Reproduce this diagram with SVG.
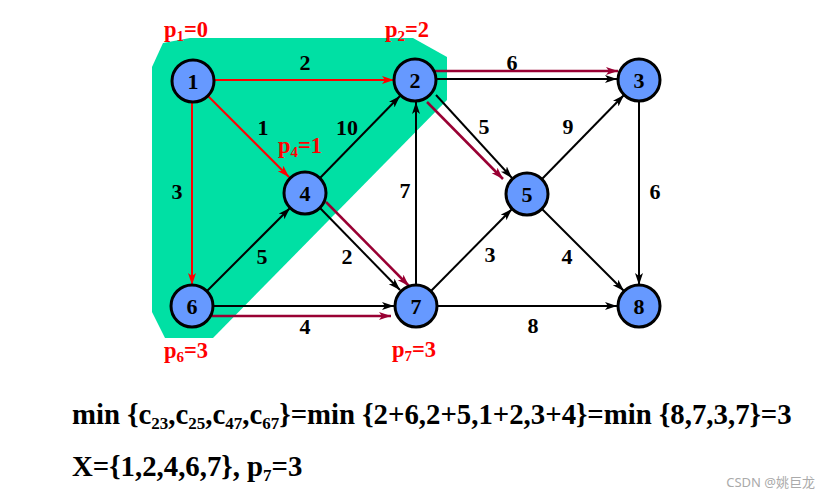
<svg xmlns="http://www.w3.org/2000/svg" width="831" height="501" viewBox="0 0 831 501">
<style>
.e{fill:none;stroke:#000;stroke-width:2}
.r{fill:none;stroke:#f00;stroke-width:2}
.m{fill:none;stroke:#990033;stroke-width:2.5}
.n{fill:#6699ff;stroke:#000;stroke-width:3}
text{font-family:'Liberation Serif','Times New Roman',serif;font-weight:bold}
.nt{font-size:22px;fill:#000;text-anchor:middle}
.l{font-size:22px;fill:#000;text-anchor:middle}
.p{font-size:22.5px;fill:#f00}
.ps{font-size:15px}
.b{font-size:28.8px;fill:#000}
.s{font-size:17px}
</style>
<defs>
<marker id="ak" markerUnits="userSpaceOnUse" markerWidth="14" markerHeight="10" refX="12" refY="4" orient="auto"><path d="M0,0 L12,4 L0,8 L3,4 z" fill="#000"/></marker>
<marker id="ar" markerUnits="userSpaceOnUse" markerWidth="14" markerHeight="10" refX="12" refY="4" orient="auto"><path d="M0,0 L12,4 L0,8 L3,4 z" fill="#f00"/></marker>
<marker id="am" markerUnits="userSpaceOnUse" markerWidth="14" markerHeight="10" refX="12" refY="4" orient="auto"><path d="M0,0 L12,4 L0,8 L3,4 z" fill="#990033"/></marker>
</defs>
<polygon points="163,43 190,38 413,38 447,57 447,100 213,338 165,338 152,312 152,67" fill="#00e0a4"/>
<g id="connectors">
<line class="r" x1="214" y1="80" x2="394" y2="80" marker-end="url(#ar)"/>
<line class="r" x1="208" y1="96" x2="289" y2="177" marker-end="url(#ar)"/>
<line class="r" x1="192" y1="102" x2="192" y2="285" marker-end="url(#ar)"/>
<line class="e" x1="320" y1="178" x2="400" y2="96" marker-end="url(#ak)"/>
<line class="e" x1="207" y1="291" x2="290" y2="208" marker-end="url(#ak)"/>
<line class="e" x1="320" y1="208" x2="400" y2="290" marker-end="url(#ak)"/>
<line class="m" x1="326" y1="202" x2="409" y2="286" marker-end="url(#am)"/>
<line class="e" x1="437" y1="79" x2="617" y2="79" marker-end="url(#ak)"/>
<line class="m" x1="434" y1="71" x2="618" y2="71" marker-end="url(#am)"/>
<line class="e" x1="436" y1="95" x2="512" y2="178" marker-end="url(#ak)"/>
<line class="m" x1="427" y1="102" x2="503" y2="179" marker-end="url(#am)"/>
<line class="e" x1="214" y1="306" x2="394" y2="306" marker-end="url(#ak)"/>
<line class="m" x1="212" y1="316" x2="391" y2="316" marker-end="url(#am)"/>
<line class="e" x1="416" y1="285" x2="416" y2="102" marker-end="url(#ak)"/>
<line class="e" x1="431" y1="291" x2="512" y2="209" marker-end="url(#ak)"/>
<line class="e" x1="542" y1="179" x2="624" y2="95" marker-end="url(#ak)"/>
<line class="e" x1="542" y1="209" x2="624" y2="291" marker-end="url(#ak)"/>
<line class="e" x1="639" y1="102" x2="639" y2="285" marker-end="url(#ak)"/>
<line class="e" x1="438" y1="306" x2="617" y2="306" marker-end="url(#ak)"/>
</g>
<g id="edge-labels">
<text class="l" x="305" y="70">2</text>
<text class="l" x="263" y="135">1</text>
<text class="l" x="347" y="135">10</text>
<text class="l" x="177" y="199">3</text>
<text class="l" x="405" y="198">7</text>
<text class="l" x="262" y="264">5</text>
<text class="l" x="347" y="264">2</text>
<text class="l" x="305" y="334">4</text>
<text class="l" x="512" y="70">6</text>
<text class="l" x="484" y="134">5</text>
<text class="l" x="568" y="134">9</text>
<text class="l" x="655" y="199">6</text>
<text class="l" x="490" y="262">3</text>
<text class="l" x="567" y="264">4</text>
<text class="l" x="533" y="333">8</text>
</g>
<g id="node1"><circle class="n" cx="193" cy="81" r="21"/><text class="nt" x="193" y="88.5">1</text></g>
<g id="node2"><circle class="n" cx="415" cy="80" r="21"/><text class="nt" x="415" y="87.5">2</text></g>
<g id="node3"><circle class="n" cx="639" cy="80" r="21"/><text class="nt" x="639" y="87.5">3</text></g>
<g id="node4"><circle class="n" cx="305" cy="193" r="21"/><text class="nt" x="305" y="200.5">4</text></g>
<g id="node5"><circle class="n" cx="527" cy="194" r="21"/><text class="nt" x="527" y="201.5">5</text></g>
<g id="node6"><circle class="n" cx="192" cy="306" r="21"/><text class="nt" x="192" y="313.5">6</text></g>
<g id="node7"><circle class="n" cx="416" cy="306" r="21"/><text class="nt" x="416" y="313.5">7</text></g>
<g id="node8"><circle class="n" cx="639" cy="306" r="21"/><text class="nt" x="639" y="313.5">8</text></g>
<g id="potentials">
<text class="p" x="164" y="37">p<tspan class="ps" dy="4">1</tspan><tspan dy="-4">=0</tspan></text>
<text class="p" x="385" y="37">p<tspan class="ps" dy="4">2</tspan><tspan dy="-4">=2</tspan></text>
<text class="p" x="278" y="153">p<tspan class="ps" dy="4">4</tspan><tspan dy="-4">=1</tspan></text>
<text class="p" x="164" y="358">p<tspan class="ps" dy="4">6</tspan><tspan dy="-4">=3</tspan></text>
<text class="p" x="392" y="357">p<tspan class="ps" dy="4">7</tspan><tspan dy="-4">=3</tspan></text>
</g>
<g id="formulas">
<text class="b" x="72" y="424">min {c<tspan class="s" dy="5">23</tspan><tspan dy="-5">,c</tspan><tspan class="s" dy="5">25</tspan><tspan dy="-5">,c</tspan><tspan class="s" dy="5">47</tspan><tspan dy="-5">,c</tspan><tspan class="s" dy="5">67</tspan><tspan dy="-5">}=min {2+6,2+5,1+2,3+4}=min {8,7,3,7}=3</tspan></text>
<text class="b" x="72" y="476">X={1,2,4,6,7}, p<tspan class="s" dy="5">7</tspan><tspan dy="-5">=3</tspan></text>
</g>
<text x="815" y="487" text-anchor="end" style="font-family:'Noto Sans','Noto Sans CJK SC',sans-serif;font-weight:normal" font-size="13" fill="#aaa">CSDN @姚巨龙</text>
</svg>
